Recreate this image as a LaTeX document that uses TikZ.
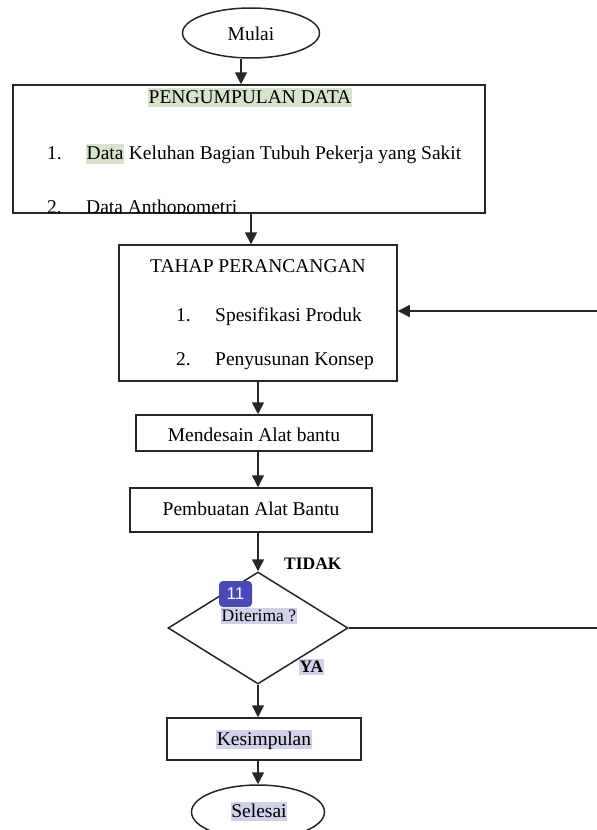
\documentclass[tikz,border=0pt]{standalone}
\usepackage{fontspec}
\setmainfont{Liberation Serif}
\newfontfamily\badgefont{Liberation Sans}
\usetikzlibrary{arrows,arrows.meta,positioning,shapes.geometric}
\definecolor{hijau}{RGB}{216,227,203}
\definecolor{ungu}{RGB}{209,209,236}
\definecolor{nomor}{RGB}{72,72,184}
\tikzset{
  kotak/.style={draw=black!85,line width=1.5pt,rectangle,inner sep=0pt},
  oval/.style={draw=black!85,line width=1.5pt,ellipse,inner sep=0pt},
  belah/.style={draw=black!85,line width=1.5pt,diamond,inner sep=0pt},
  panah/.style={draw=black!85,line width=1.5pt,-{Triangle[length=12pt,width=12pt]}},
  teks/.style={inner sep=0pt,anchor=base,font=\fontsize{19.5}{22}\selectfont},
  tebal/.style={inner sep=0pt,anchor=base west,font=\fontsize{17.5}{20}\selectfont\bfseries},
  sorot/.style={fill=#1,inner xsep=0.5pt,inner ysep=0pt,text height=15pt,text depth=4pt}
}
\begin{document}
\begin{tikzpicture}[x=1pt,y=-1pt]
\useasboundingbox (0,0) rectangle (597,830);
\clip (0,0) rectangle (597,830);

\node[oval,minimum width=137pt,minimum height=50pt] (mulai) at (251,33){};
\node[kotak,minimum width=472pt,minimum height=128pt] (data) at (249,149){};
\node[kotak,minimum width=278pt,minimum height=136pt] (tahap) at (258,313){};
\node[kotak,minimum width=236pt,minimum height=36pt] (desain) at (254,433){};
\node[kotak,minimum width=242pt,minimum height=44pt] (buat) at (251,510){};
\node[belah,minimum width=180pt,minimum height=112pt] (cek) at (258,628){};
\node[kotak,minimum width=194pt,minimum height=42pt] (simpul) at (264,739){};
\node[oval,minimum width=133pt,minimum height=54pt] (selesai) at (258,812){};

\node[teks] (tmulai) at (251,40){Mulai};
\node[teks,sorot=hijau] (tdata) at (250,103){PENGUMPULAN DATA};
\node[teks,anchor=base west] (n11) at (47,159){1.};
\node[teks,anchor=base west] (i11) at (86,159){\setlength{\fboxsep}{0.5pt}\colorbox{hijau}{\rule[-4pt]{0pt}{19pt}Data} Keluhan Bagian Tubuh Pekerja yang Sakit};
\begin{scope}
\clip (data.north west) rectangle (data.south east);
\node[teks,anchor=base west] (n12) at (47,213){2.};
\node[teks,anchor=base west] (i12) at (86,213){Data Anthopometri};
\end{scope}
\node[teks] (ttahap) at (258,272){TAHAP PERANCANGAN};
\node[teks,anchor=base west] (n21) at (176,321){1.};
\node[teks,anchor=base west] (i21) at (215,321){Spesifikasi Produk};
\node[teks,anchor=base west] (n22) at (176,365){2.};
\node[teks,anchor=base west] (i22) at (215,365){Penyusunan Konsep};
\node[teks] (tdesain) at (254,441){Mendesain Alat bantu};
\node[teks] (tbuat) at (251,515){Pembuatan Alat Bantu};
\node[teks,anchor=base west,sorot=ungu,font=\fontsize{17.5}{20}\selectfont,text height=13pt,text depth=3pt] (tcek) at (221,621){Diterima ?};
\node[tebal] (tidak) at (284,569){TIDAK};
\node[tebal,sorot=ungu,text height=13pt,text depth=3pt] (ya) at (299,672){YA};
\node[teks,sorot=ungu] (tsimpul) at (264,745){Kesimpulan};
\node[teks,sorot=ungu] (tselesai) at (259,817){Selesai};
\node[fill=nomor,rounded corners=4pt,minimum width=33pt,minimum height=26pt,inner sep=0pt,text=white,font=\badgefont\fontsize{17}{19}\selectfont] (badge) at (235.5,594){11};

\coordinate (balik1) at (610,628);
\coordinate (balik2) at (610,311);

\draw[panah] ([xshift=-10pt]mulai.south) -- ([xshift=-10pt]mulai.south |- data.north);
\draw[panah] ([xshift=2pt]data.south) -- ([xshift=2pt]data.south |- tahap.north);
\draw[panah] (tahap.south) -- (tahap.south |- desain.north);
\draw[panah] (desain.south -| tahap.south) -- (tahap.south |- buat.north);
\draw[panah] (buat.south -| cek.north) -- (cek.north);
\draw[panah] (cek.south) -- (cek.south |- simpul.north);
\draw[panah] (simpul.south -| selesai.north) -- (selesai.north);
\draw[panah] (cek.east) -- (balik1) -- (balik2) -- ([yshift=2pt]tahap.east);

\end{tikzpicture}
\end{document}
